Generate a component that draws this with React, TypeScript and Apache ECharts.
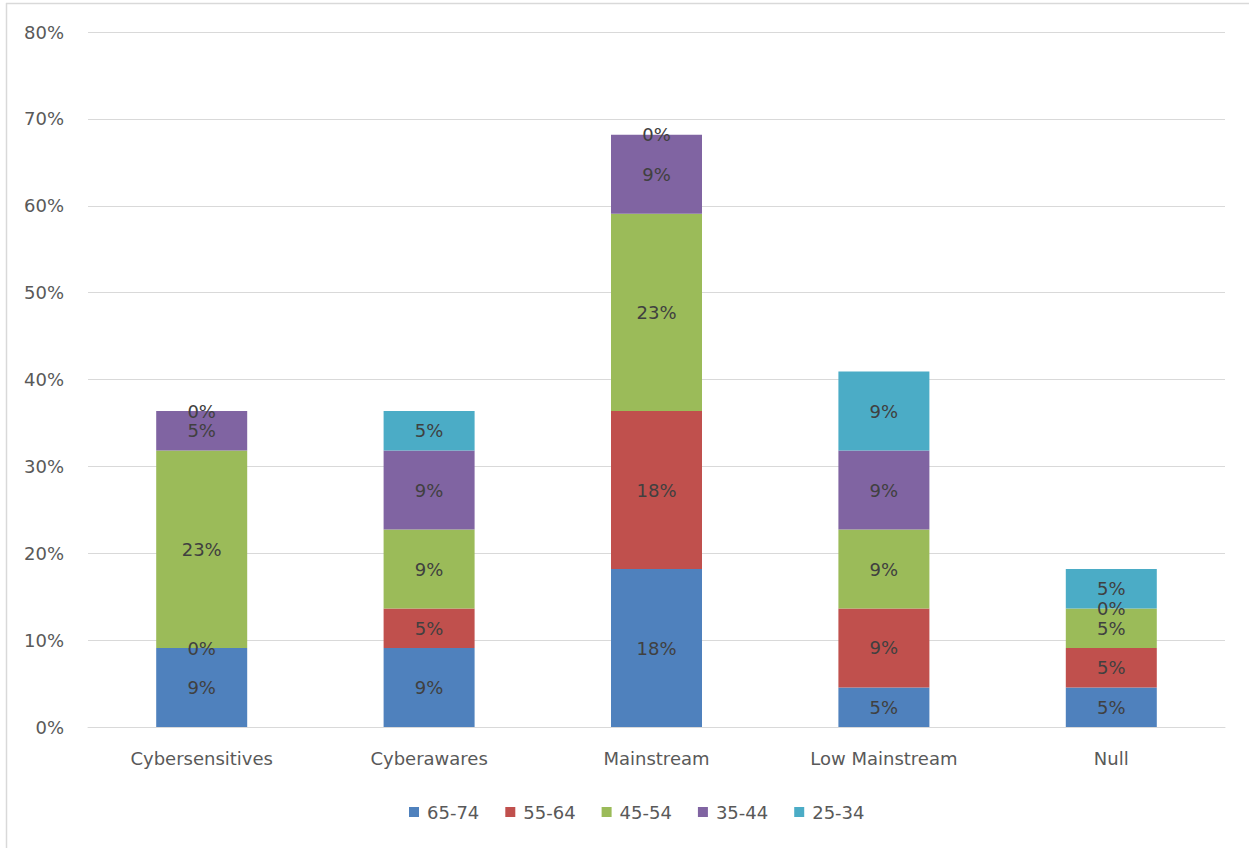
import React, { useEffect, useRef } from "react";
import * as echarts from "echarts";

const categories = ["Cybersensitives", "Cyberawares", "Mainstream", "Low Mainstream", "Null"];
const seriesNames = ["65-74", "55-64", "45-54", "35-44", "25-34"];
const colors = ["#4F81BD", "#C0504D", "#9BBB59", "#8064A2", "#4BACC6"];

const age65to74 = [0.0909, 0.0909, 0.1818, 0.0455, 0.0455];
const age55to64 = [0, 0.0455, 0.1818, 0.0909, 0.0455];
const age45to54 = [0.2273, 0.0909, 0.2273, 0.0909, 0.0455];
const age35to44 = [0.0455, 0.0909, 0.0909, 0.0909, 0];
const age25to34 = [0, 0.0455, 0, 0.0909, 0.0455];

const seriesValues = [age65to74, age55to64, age45to54, age35to44, age25to34];
const yTicks = [0, 0.1, 0.2, 0.3, 0.4, 0.5, 0.6, 0.7, 0.8];

const FONT = "'DejaVu Sans', sans-serif";
const pct = (v: number) => Math.round(v * 100) + "%";

export default function App() {
  const ref = useRef<HTMLDivElement>(null);

  useEffect(() => {
    if (!ref.current) return;
    const chart = echarts.init(ref.current, undefined, { renderer: "svg" });
    chart.setOption({
      animation: false,
      backgroundColor: "#ffffff",
      color: colors,
      textStyle: { fontFamily: FONT },
      grid: { left: 88, right: 24, top: 32, bottom: 121, containLabel: false },
      graphic: [
        {
          type: "line",
          shape: { x1: 6.5, y1: 3, x2: 6.5, y2: 848 },
          style: { stroke: "#d9d9d9", lineWidth: 1.5 },
        },
        {
          type: "line",
          shape: { x1: 6, y1: 3.5, x2: 1249, y2: 3.5 },
          style: { stroke: "#d9d9d9", lineWidth: 1.5 },
        },
      ],
      legend: {
        data: seriesNames,
        top: 798,
        left: 404,
        itemWidth: 10,
        itemHeight: 10,
        itemGap: 26,
        icon: "rect",
        textStyle: { color: "#595959", fontSize: 18, fontFamily: FONT, padding: [0, 0, 0, 3] },
      },
      xAxis: {
        type: "category",
        data: categories,
        axisLine: { show: true, lineStyle: { color: "#d9d9d9", width: 1 } },
        axisTick: { show: false },
        axisLabel: { color: "#595959", fontSize: 18, margin: 22, fontFamily: FONT },
      },
      yAxis: {
        type: "value",
        min: yTicks[0],
        max: yTicks[yTicks.length - 1],
        interval: 0.1,
        axisLine: { show: false },
        axisTick: { show: false },
        splitLine: { lineStyle: { color: "#d9d9d9", width: 1 } },
        axisLabel: {
          color: "#595959",
          fontSize: 18,
          margin: 24,
          fontFamily: FONT,
          formatter: (v: number) => pct(v),
        },
      },
      series: seriesNames.map((name, i) => ({
        name,
        type: "bar",
        stack: "total",
        barWidth: 91,
        data: seriesValues[i],
        itemStyle: { color: colors[i] },
        label: {
          show: true,
          position: "inside",
          color: "#404040",
          fontSize: 18,
          fontFamily: FONT,
          formatter: (p: any) => pct(p.value),
        },
      })),
    });
    return () => chart.dispose();
  }, []);

  return (
    <div
      ref={ref}
      style={{ position: "absolute", left: 0, top: 0, width: 1249, height: 848 }}
    />
  );
}
